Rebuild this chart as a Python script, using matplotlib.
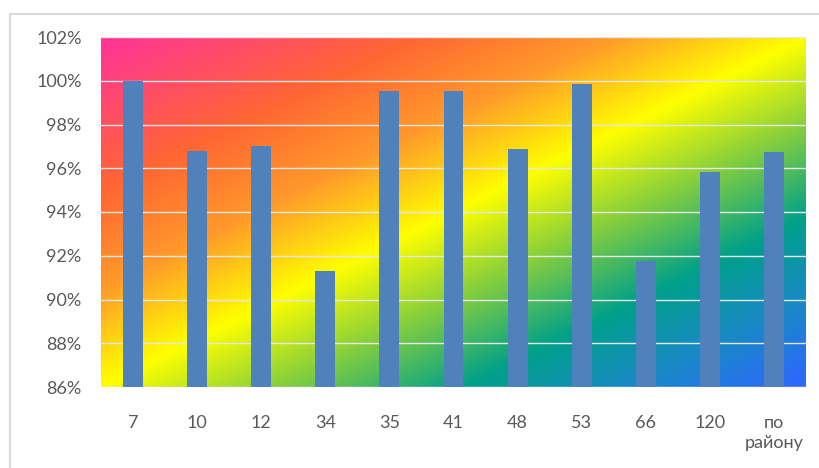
import numpy as np
import matplotlib
matplotlib.use("Agg")
from matplotlib import pyplot as plt
from matplotlib.colors import LinearSegmentedColormap
from matplotlib.patches import Rectangle

# values (percent)
schools = ['7', '10', '12', '34', '35', '41', '48', '53', '66', '120', 'по\nрайону']
shares = [100.0, 96.8, 97.0, 91.3, 99.55, 99.55, 96.9, 99.85, 91.75, 95.85, 96.75]
y_ticks = [86, 88, 90, 92, 94, 96, 98, 100, 102]

plt.rcParams['font.family'] = ['Lato', 'DejaVu Sans']

fig = plt.figure(figsize=(8.19, 4.68), dpi=100)
fig.patches.append(Rectangle((10 / 819, -0.1), 1.2, 1.1 - 14 / 468,
                             transform=fig.transFigure, fill=False,
                             edgecolor='#D9D9D9', linewidth=1.5))
ax = fig.add_axes([101 / 819, 1 - 387 / 468, 705 / 819, 350 / 468])

# diagonal rainbow background, pink top-left -> blue bottom-right
rainbow = LinearSegmentedColormap.from_list('rainbow_office', [
    (0.0, '#FF3399'), (0.22, '#FF6633'), (0.36, '#FF9A2A'), (0.5, '#FFFF00'),
    (0.62, '#8CD13A'), (0.76, '#00A08A'), (0.88, '#1A88C8'), (1.0, '#2E66FF')])
u, v = np.meshgrid(np.linspace(0, 1, 400), np.linspace(0, 1, 200))
grad = (u + v) / 2
x = np.arange(len(schools))
ax.imshow(grad, cmap=rainbow, extent=(-0.5, len(schools) - 0.5, 86, 102),
          origin='upper', aspect='auto', zorder=0, interpolation='bilinear')

for t in y_ticks:
    ax.axhline(t, color='#E6E6E6', linewidth=1, zorder=1)

ax.bar(x, shares, width=0.31, bottom=0, color='#4F81BD', zorder=2)

ax.set_xlim(-0.5, len(schools) - 0.5)
ax.set_ylim(86, 102)
ax.set_yticks(y_ticks)
ax.set_yticklabels([f'{t}%' for t in y_ticks])
ax.set_xticks(x)
ax.set_xticklabels(schools, linespacing=1.3)
for s in ax.spines.values():
    s.set_visible(False)
ax.tick_params(axis='both', length=0, labelsize=13, colors='#595959')
ax.tick_params(axis='x', pad=20)
ax.tick_params(axis='y', pad=14)

fig.savefig('out.png', dpi=100)
